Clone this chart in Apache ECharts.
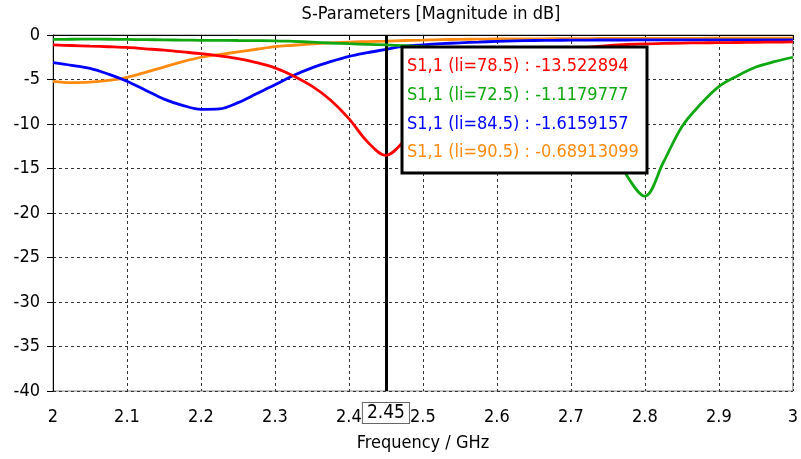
<!DOCTYPE html>
<html>
<head>
<meta charset="utf-8">
<script src="https://cdn.jsdelivr.net/npm/echarts@6/dist/echarts.min.js"></script>
<style>
  html, body { margin: 0; padding: 0; background: #fff; }
  #chart { width: 801px; height: 459px; }
</style>
</head>
<body>
<div id="chart"></div>
<script>
// Frequency sweep (GHz)
const freq = [
  2.000, 2.025, 2.050, 2.075, 2.100, 2.125, 2.150, 2.175, 2.200, 2.225,
  2.250, 2.275, 2.300, 2.325, 2.350, 2.375, 2.400, 2.425, 2.450, 2.475,
  2.500, 2.525, 2.550, 2.575, 2.600, 2.625, 2.650, 2.675, 2.700, 2.725,
  2.750, 2.775, 2.800, 2.825, 2.850, 2.875, 2.900, 2.925, 2.950, 2.975,
  3.000
];

// S1,1 magnitude in dB for each li value
const s11_li785 = [
  -1.12, -1.18, -1.25, -1.32, -1.40, -1.55, -1.70, -1.90, -2.10, -2.35,
  -2.65, -3.10, -3.70, -4.60, -5.75, -7.30, -9.40, -12.00, -13.522894, -11.90,
  -9.80, -7.80, -6.00, -4.60, -3.50, -2.70, -2.15, -1.80, -1.55, -1.36,
  -1.20, -1.07, -0.99, -0.95, -0.91, -0.88, -0.86, -0.84, -0.82, -0.80,
  -0.78
];
const s11_li725 = [
  -0.50, -0.48, -0.47, -0.48, -0.50, -0.52, -0.55, -0.57, -0.60, -0.61,
  -0.62, -0.63, -0.65, -0.72, -0.80, -0.90, -0.98, -1.05, -1.1179777, -1.20,
  -1.30, -1.45, -1.65, -1.90, -2.25, -2.75, -3.50, -4.60, -6.20, -8.40,
  -11.40, -15.70, -18.10, -14.30, -10.30, -7.80, -5.80, -4.60, -3.60, -3.00,
  -2.50
];
const s11_li845 = [
  -3.10, -3.40, -3.75, -4.40, -5.20, -6.20, -7.20, -7.90, -8.35, -8.30,
  -7.60, -6.60, -5.60, -4.55, -3.70, -3.00, -2.40, -1.98, -1.6159157, -1.25,
  -1.10, -0.98, -0.88, -0.80, -0.72, -0.66, -0.62, -0.60, -0.58, -0.57,
  -0.56, -0.56, -0.55, -0.55, -0.55, -0.54, -0.54, -0.54, -0.54, -0.54,
  -0.54
];
const s11_li905 = [
  -5.20, -5.35, -5.30, -5.10, -4.75, -4.20, -3.60, -3.00, -2.50, -2.20,
  -1.90, -1.60, -1.30, -1.15, -1.00, -0.88, -0.79, -0.74, -0.68913099, -0.62,
  -0.58, -0.53, -0.49, -0.47, -0.45, -0.44, -0.43, -0.42, -0.41, -0.40,
  -0.39, -0.39, -0.38, -0.38, -0.37, -0.37, -0.36, -0.36, -0.35, -0.35,
  -0.35
];

// Marker frequency and tick settings
const markerFreq = 2.45;
const xTicks = { min: 2, max: 3, step: 0.1 };
const yTicks = { min: -40, max: 0, step: 5 };

const traces = [
  { name: 'S1,1 (li=78.5)', values: s11_li785, color: '#ff0000' },
  { name: 'S1,1 (li=72.5)', values: s11_li725, color: '#10a810' },
  { name: 'S1,1 (li=84.5)', values: s11_li845, color: '#0000ff' },
  { name: 'S1,1 (li=90.5)', values: s11_li905, color: '#ff8a10' }
];

const FONT = "'DejaVu Sans Condensed', 'Liberation Sans', sans-serif";
const FS = 18;
const chart = echarts.init(document.getElementById('chart'), null, { renderer: 'canvas' });

function valueAt(values, f) {
  const i = freq.findIndex(x => Math.abs(x - f) < 1e-9);
  return values[i];
}

const series = traces.map((t, k) => {
  const s = {
    name: t.name,
    type: 'line',
    data: freq.map((f, i) => [f, t.values[i]]),
    smooth: 0.35,
    showSymbol: false,
    symbol: 'none',
    lineStyle: { color: t.color, width: 2.8 },
    itemStyle: { color: t.color },
    z: 3 + (3 - k),
    animation: false
  };
  if (k === 0) {
    s.markLine = {
      silent: true,
      symbol: ['none', 'none'],
      animation: false,
      lineStyle: { color: '#000', width: 3, type: 'solid' },
      label: {
        show: true,
        position: 'start',
        distance: 12,
        formatter: String(markerFreq),
        color: '#000',
        fontFamily: FONT,
        fontSize: 19,
        lineHeight: 19,
        backgroundColor: '#fff',
        borderColor: '#666',
        borderWidth: 1,
        padding: [1, 4, 0, 4]
      },
      data: [{ xAxis: markerFreq }]
    };
  }
  return s;
});

// Marker readout box
const readout = traces.map((t, k) => ({
  type: 'text',
  x: 5,
  y: 19.5 + k * 28.7,
  z: 101,
  style: {
    text: t.name + ' : ' + String(valueAt(t.values, markerFreq)),
    fill: t.color,
    font: FS + 'px ' + FONT,
    verticalAlign: 'middle'
  }
}));

chart.setOption({
  backgroundColor: '#fff',
  animation: false,
  title: {
    text: 'S-Parameters [Magnitude in dB]',
    left: 426,
    top: 0,
    textAlign: 'center',
    textStyle: { fontFamily: FONT, fontSize: FS, fontWeight: 'normal', color: '#000' }
  },
  grid: {
    left: 53, right: 1, top: 35, bottom: 68,
    show: true, borderColor: '#888', borderWidth: 1, backgroundColor: 'transparent'
  },
  xAxis: {
    type: 'value',
    min: xTicks.min, max: xTicks.max, interval: xTicks.step,
    name: 'Frequency / GHz',
    nameLocation: 'middle',
    nameGap: 43,
    nameTextStyle: { fontFamily: FONT, fontSize: FS, color: '#000' },
    axisLine: { lineStyle: { color: '#000', width: 1 } },
    axisTick: { show: true, length: 5, lineStyle: { color: '#000' } },
    axisLabel: {
      margin: 17, color: '#000', fontFamily: FONT, fontSize: FS,
      formatter: v => String(Math.round(v * 10) / 10)
    },
    splitLine: { show: true, lineStyle: { color: '#333', width: 1, type: [3, 3] } }
  },
  yAxis: {
    type: 'value',
    min: yTicks.min, max: yTicks.max, interval: yTicks.step,
    axisLine: { show: true, lineStyle: { color: '#000', width: 1 } },
    axisTick: { show: true, length: 6, lineStyle: { color: '#000' } },
    axisLabel: {
      margin: 13, color: '#000', fontFamily: FONT, fontSize: FS,
      formatter: v => String(v)
    },
    splitLine: { show: true, lineStyle: { color: '#333', width: 1, type: [3, 3] } }
  },
  graphic: [{
    type: 'group',
    x: 402,
    y: 47,
    z: 100,
    children: [{
      type: 'rect',
      z: 100,
      shape: { x: 0, y: 0, width: 245, height: 126 },
      style: { fill: '#fff', stroke: '#000', lineWidth: 3 }
    }].concat(readout)
  }],
  series: series
});
</script>
</body>
</html>
